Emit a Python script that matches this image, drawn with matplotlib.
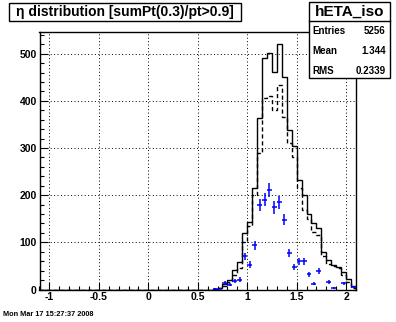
import numpy as np
import matplotlib
matplotlib.use("Agg")
import matplotlib.pyplot as plt
from matplotlib.patches import Rectangle
from matplotlib.ticker import MultipleLocator

plt.rcParams['font.family'] = ['Liberation Sans', 'DejaVu Sans']

# histogram binning: 64 bins from -1.1 to 2.1
lo, hi, nb = -1.1, 2.1, 64
first_bin = 35  # bin starting at 0.65

solid = [2, 4, 12, 20, 41, 58, 119, 144, 216, 363, 490, 502, 461, 520, 450,
         338, 304, 232, 200, 161, 140, 131, 80, 62, 53, 48, 38, 22, 8]
dashed = [1, 3, 8, 15, 30, 45, 100, 135, 200, 289, 405, 410, 380, 433, 365,
          310, 280, 215, 168, 150, 122, 115, 72, 55, 50, 45, 30, 15, 3]
blue_x = [0.675, 0.725, 0.775, 0.825, 0.875, 0.925, 0.975, 1.025, 1.075, 1.125,
          1.175, 1.225, 1.275, 1.325, 1.375, 1.425, 1.475, 1.525, 1.575, 1.625,
          1.675, 1.725, 1.825, 1.875, 1.975, 2.075]
blue_y = [2, 2, 14, 10, 18, 21, 70, 53, 94, 179, 190, 211, 174, 185, 148, 78,
          48, 60, 60, 32, 12, 40, 16, 3, 13, 6]

stats_name = "hETA_iso"
stats_rows = [("Entries", "5256"), ("Mean", "1.344"), ("RMS", "0.2339")]
title = "\u03b7 distribution [sumPt(0.3)/pt>0.9]"
datestr = "Mon Mar 17 15:27:37 2008"

edges = np.linspace(lo, hi, nb + 1)
h1 = np.zeros(nb)
h1[first_bin:first_bin + len(solid)] = solid
h2 = np.zeros(nb)
h2[first_bin:first_bin + len(dashed)] = dashed

W, H = 396, 322
fig = plt.figure(figsize=(W / 100, H / 100), dpi=100)
fig.patch.set_facecolor('white')
ax = fig.add_axes([39.5 / W, 32.5 / H, 316.5 / W, 257.5 / H])

ax.stairs(h1, edges, color='black', lw=1.0, baseline=0)
ax.stairs(h2, edges, color='black', lw=1.0, ls=(0, (3, 2)), baseline=0)
bx = np.array(blue_x)
by = np.array(blue_y)
ax.errorbar(bx, by, xerr=0.025, yerr=np.sqrt(by), fmt='none', ecolor='blue',
            elinewidth=1.1, capsize=0)

ax.set_xlim(lo, hi)
ax.set_ylim(0, 546)
ax.xaxis.set_minor_locator(MultipleLocator(0.1))
ax.yaxis.set_major_locator(MultipleLocator(100))
ax.yaxis.set_minor_locator(MultipleLocator(20))
ax.set_xticks([-1, -0.5, 0, 0.5, 1, 1.5, 2])
ax.set_xticklabels(['-1', '-0.5', '0', '0.5', '1', '1.5', '2'])
ax.grid(True, which='major', color='black', lw=0.7, ls=(0, (1, 2.5)))
ax.tick_params(which='major', direction='in', length=5.5, width=0.8,
               labelsize=7.5, pad=2, top=False, right=False)
ax.tick_params(which='minor', direction='in', length=3, width=0.8,
               top=False, right=False)
for lab in ax.get_xticklabels() + ax.get_yticklabels():
    lab.set_fontweight('bold')
for s in ax.spines.values():
    s.set_linewidth(1.0)


def px(x, y):
    return x / W, 1 - y / H


# title box
x0, y0 = px(9, 20.7)
fig.patches.append(Rectangle((x0, y0), (240.7 - 9) / W, 18 / H, transform=fig.transFigure,
                             fill=True, facecolor='white', edgecolor='black', lw=1.0))
fig.text(*px(125, 11.7), title, ha='center', va='center', fontsize=10, fontweight='bold')

# stats box
sx0, sy0 = px(309, 78.3)
fig.patches.append(Rectangle((sx0, sy0), 81 / W, 76.6 / H, transform=fig.transFigure,
                             fill=True, facecolor='white', edgecolor='black', lw=1.0))
fig.add_artist(plt.Line2D([309 / W, 390 / W], [1 - 21 / H, 1 - 21 / H],
                          transform=fig.transFigure, color='black', lw=1.0))
fig.text(*px(349.5, 11.5), stats_name, ha='center', va='center', fontsize=11, fontweight='bold')
for i, (k, v) in enumerate(stats_rows):
    yy = 31.5 + i * 19.5
    fig.text(*px(312.5, yy), k, ha='left', va='center', fontsize=7, fontweight='bold')
    fig.text(*px(385.5, yy), v, ha='right', va='center', fontsize=7, fontweight='bold')

fig.text(*px(3, 314.5), datestr, ha='left', va='center', fontsize=5.3, fontweight='bold')

fig.savefig("out.png", dpi=100, facecolor='white')
